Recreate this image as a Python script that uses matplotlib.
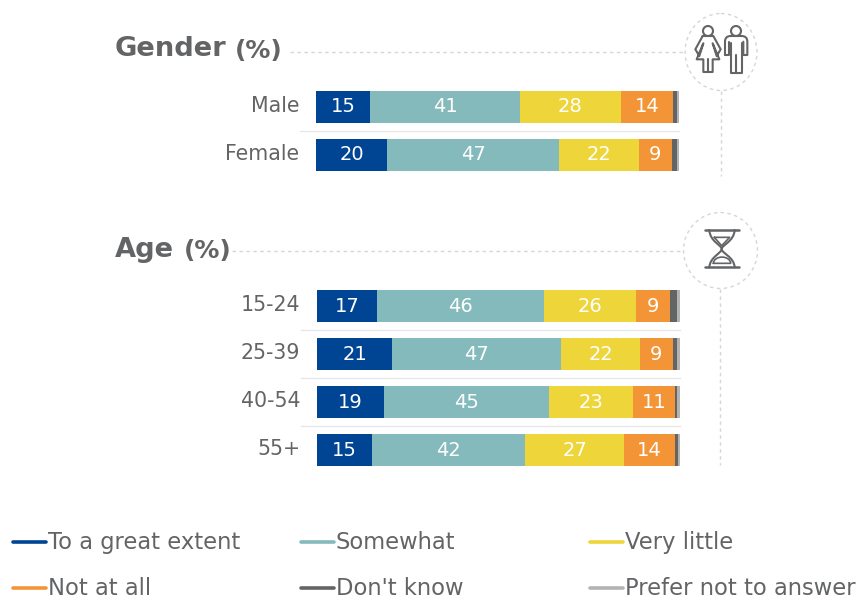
#!/usr/bin/env python3
import matplotlib
matplotlib.use('Agg')
import matplotlib.pyplot as plt
from matplotlib.patches import Circle, Ellipse, PathPatch
from matplotlib.path import Path
from matplotlib.transforms import ScaledTranslation

W, H = 857, 599

series = ['To a great extent', 'Somewhat', 'Very little', 'Not at all',
          "Don't know", 'Prefer not to answer']
colors = ['#004494', '#84BABB', '#EDD53A', '#F39536', '#636466', '#B3B3B3']
text_col = '#636466'

gender_cats = ['Male', 'Female']
gender_vals = [
    [15.0, 41.2, 27.8, 14.3, 1.1, 0.6],
    [19.6, 47.3, 22.1, 9.0, 1.4, 0.6],
]
gender_labels = [[15, 41, 28, 14], [20, 47, 22, 9]]

age_cats = ['15-24', '25-39', '40-54', '55+']
age_vals = [
    [16.6, 45.9, 25.5, 9.2, 2.0, 0.8],
    [20.7, 46.5, 21.8, 9.0, 1.2, 0.8],
    [18.5, 45.4, 23.1, 11.6, 0.5, 0.9],
    [15.2, 42.1, 27.3, 14.0, 0.8, 0.6],
]
age_labels = [[17, 46, 26, 9], [21, 47, 22, 9], [19, 45, 23, 11], [15, 42, 27, 14]]

plt.rcParams['font.family'] = 'DejaVu Sans'
fig = plt.figure(figsize=(W / 100, H / 100), dpi=100)


def px_axes(x0, x1, y0, y1):
    return fig.add_axes([x0 / W, 1 - y1 / H, (x1 - x0) / W, (y1 - y0) / H])


def stacked(ax, cats, vals, labels):
    n = len(cats)
    ypos = list(range(n))
    lefts = [0.0] * n
    for j in range(len(series)):
        widths = [row[j] for row in vals]
        bars = ax.barh(ypos, widths, left=lefts, height=32 / 48, color=colors[j],
                       linewidth=0)
        if j < 4:
            txts = ax.bar_label(bars, labels=[str(row[j]) for row in labels],
                                label_type='center', color='white', fontsize=14)
            for t in txts:
                t.set_transform(t.get_transform() + ScaledTranslation(1 / 100, -1 / 100, fig.dpi_scale_trans))
        lefts = [a + b for a, b in zip(lefts, widths)]
    # thin rules between the rows
    for i in range(n - 1):
        ax.plot([-4.4, 100], [i + 0.5, i + 0.5], color='#E6E6E6', lw=0.9, clip_on=False)
    ax.set_xlim(0, 100)
    ax.set_ylim(n - 0.5, -0.5)
    ax.set_yticks(ypos)
    ax.set_yticklabels(cats, fontsize=14.8, color=text_col)
    ax.tick_params(axis='y', length=0, pad=12)
    for t in ax.get_yticklabels():
        t.set_transform(t.get_transform() + ScaledTranslation(0, 3 / 100, fig.dpi_scale_trans))
    ax.xaxis.set_visible(False)
    for s in ax.spines.values():
        s.set_visible(False)
    ax.patch.set_alpha(0)


ax1 = px_axes(316, 679, 83, 179)
stacked(ax1, gender_cats, gender_vals, gender_labels)
ax2 = px_axes(317, 680, 282.4, 474.4)
stacked(ax2, age_cats, age_vals, age_labels)

# overlay in pixel coordinates for headings, icons, legend
ov = fig.add_axes([0, 0, 1, 1], zorder=-1)
ov.set_xlim(0, W)
ov.set_ylim(H, 0)
ov.axis('off')

ov.text(115, 56.5, 'Gender', fontsize=19.6, fontweight='bold', color=text_col, va='baseline')
ov.text(235, 58, '(%)', fontsize=18, fontweight='bold', color=text_col, va='baseline')
ov.text(115, 257, 'Age', fontsize=19.6, fontweight='bold', color=text_col, va='baseline')
ov.text(184, 258, '(%)', fontsize=18, fontweight='bold', color=text_col, va='baseline')

dash = dict(color='#D6D6D6', lw=1.0, ls=(0, (2.5, 2.5)))
ov.plot([290, 685], [51.5, 51.5], **dash)
ov.plot([721, 721], [91, 176], **dash)
ov.add_patch(Ellipse((721, 52), 72, 77, fill=False, ec='#D6D6D6', lw=1.0, ls=(0, (2.5, 2.5))))
ov.plot([232, 683], [250.5, 250.5], **dash)
ov.plot([720.5, 720.5], [289, 465], **dash)
ov.add_patch(Ellipse((720.5, 250.5), 74, 76, fill=False, ec='#D6D6D6', lw=1.0, ls=(0, (2.5, 2.5))))


def icon(verts, codes=None, ox=660, oy=0, lw=1.5):
    pts = [(ox + x / 3, oy + y / 3) for x, y in verts]
    ov.add_patch(PathPatch(Path(pts, codes), fill=False, ec=text_col, lw=lw,
                           capstyle='round', joinstyle='round'))


M, L, C, C4 = Path.MOVETO, Path.LINETO, Path.CURVE3, Path.CURVE4

# woman
ov.add_patch(Circle((708, 31), 5, fill=False, ec=text_col, lw=1.5))
icon([(128, 108), (160, 108), (182, 148), (170, 168), (158, 130), (178, 178), (158, 178),
      (158, 216), (130, 216), (130, 178), (110, 178), (130, 130), (118, 168), (106, 148),
      (128, 108)])
icon([(144, 178), (144, 216)])
# man
ov.add_patch(Circle((736, 31), 5, fill=False, ec=text_col, lw=1.5))
icon([(195, 165), (195, 125), (195, 108), (212, 108), (245, 108), (262, 108), (262, 125), (262, 165),
      (250, 165), (250, 125)],
     [M, L, C, C, L, C, C, L, L, L])
icon([(207, 125), (207, 165), (195, 165)])
icon([(212, 130), (212, 218), (246, 218), (246, 130)])
icon([(229, 165), (229, 218)])

# hourglass
icon([(135, 90), (237, 90)], oy=200, lw=1.8)
icon([(135, 202), (237, 202)], oy=200, lw=1.8)
icon([(148, 90), (150, 125), (185, 135), (185, 147), (185, 160), (150, 170), (148, 202)],
     [M, C4, C4, C4, C4, C4, C4], oy=200)
icon([(224, 90), (222, 125), (185, 135), (185, 147), (185, 160), (222, 170), (224, 202)],
     [M, C4, C4, C4, C4, C4, C4], oy=200)
icon([(163, 112), (209, 112), (185, 137), (163, 112)], oy=200, lw=1.2)
icon([(160, 190), (162, 165), (210, 165), (212, 190), (160, 190)], [M, C4, C4, C4, L], oy=200, lw=1.2)

# legend
col_x = [13, 301, 590]
row_y = [542, 588]
for k, name in enumerate(series):
    x = col_x[k % 3]
    y = row_y[k // 3]
    ov.plot([x, x + 33], [y, y], color=colors[k], lw=2.6, solid_capstyle='round')
    ov.text(x + 35, y - 2, name, fontsize=16.3, color=text_col, va='center_baseline')

fig.savefig('out.png', dpi=100)
plt.close('all')
